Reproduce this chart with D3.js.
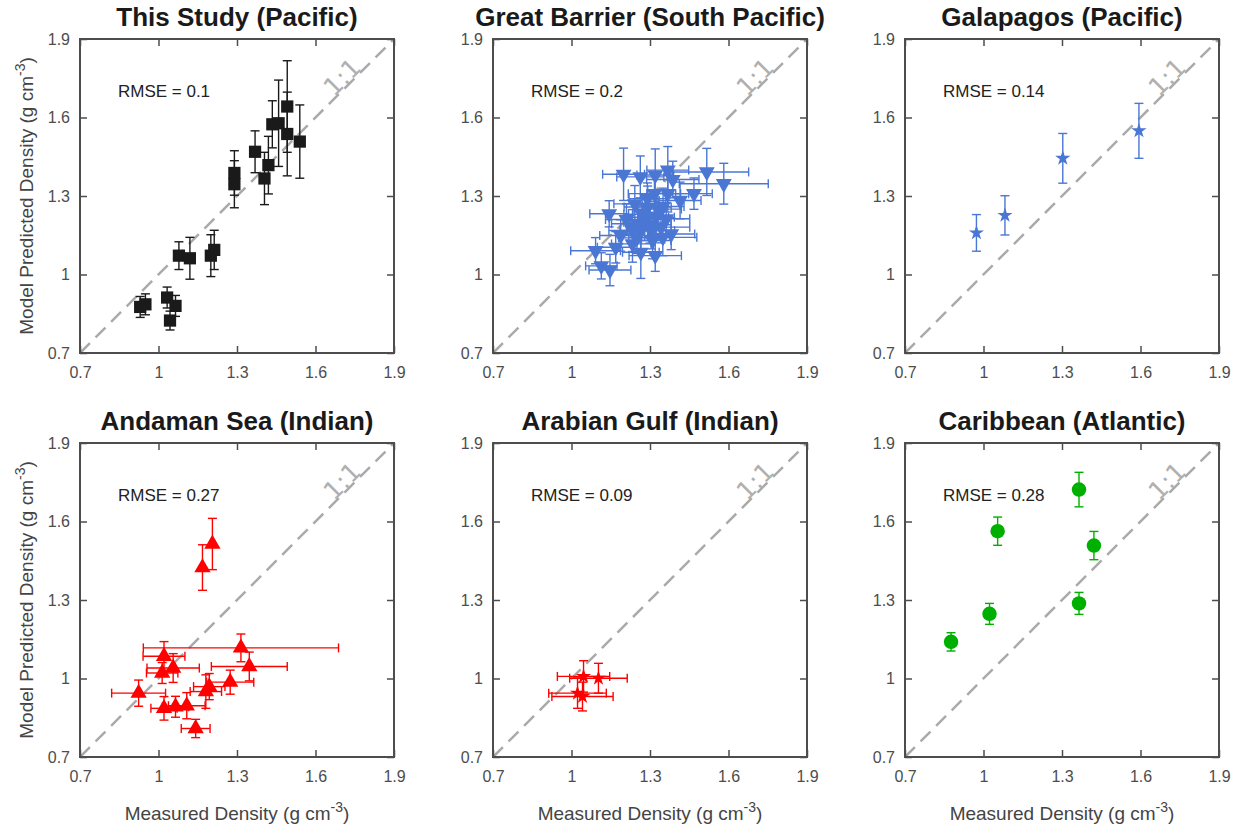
<!DOCTYPE html>
<html>
<head>
<meta charset="utf-8">
<script src="https://cdn.jsdelivr.net/npm/d3@7"></script>
<style>
  body { margin: 0; background: #fff; }
  text { font-family: "Liberation Sans", Arial, sans-serif; }
</style>
</head>
<body>
<div id="chart"></div>
<script>
// tick values shared by every panel
const ticks = [0.7, 1, 1.3, 1.6, 1.9]

// each point: x = measured, y = model, xe / ye = half error bar
const thisStudy = [
    { x: 0.93, y: 0.876, xe: 0, ye: 0.04 },
    { x: 0.95, y: 0.886, xe: 0, ye: 0.04 },
    { x: 1.033, y: 0.912, xe: 0, ye: 0.04 },
    { x: 1.065, y: 0.88, xe: 0, ye: 0.04 },
    { x: 1.044, y: 0.824, xe: 0, ye: 0.036 },
    { x: 1.078, y: 1.072, xe: 0, ye: 0.053 },
    { x: 1.12, y: 1.062, xe: 0, ye: 0.08 },
    { x: 1.2, y: 1.072, xe: 0, ye: 0.08 },
    { x: 1.213, y: 1.094, xe: 0, ye: 0.075 },
    { x: 1.29, y: 1.388, xe: 0, ye: 0.085 },
    { x: 1.29, y: 1.345, xe: 0, ye: 0.09 },
    { x: 1.369, y: 1.469, xe: 0, ye: 0.08 },
    { x: 1.405, y: 1.367, xe: 0, ye: 0.1 },
    { x: 1.42, y: 1.418, xe: 0, ye: 0.11 },
    { x: 1.435, y: 1.574, xe: 0, ye: 0.09 },
    { x: 1.459, y: 1.578, xe: 0, ye: 0.165 },
    { x: 1.492, y: 1.642, xe: 0, ye: 0.175 },
    { x: 1.492, y: 1.537, xe: 0, ye: 0.16 },
    { x: 1.54, y: 1.508, xe: 0, ye: 0.14 }
]

const greatBarrier = [
    { x: 1.199, y: 1.383, xe: 0.08, ye: 0.1 },
    { x: 1.263, y: 1.373, xe: 0.09, ye: 0.08 },
    { x: 1.32, y: 1.38, xe: 0.07, ye: 0.1 },
    { x: 1.368, y: 1.399, xe: 0.08, ye: 0.09 },
    { x: 1.387, y: 1.363, xe: 0.1, ye: 0.07 },
    { x: 1.517, y: 1.392, xe: 0.16, ye: 0.09 },
    { x: 1.582, y: 1.347, xe: 0.17, ye: 0.078 },
    { x: 1.468, y: 1.309, xe: 0.07, ye: 0.06 },
    { x: 1.415, y: 1.283, xe: 0.08, ye: 0.07 },
    { x: 1.317, y: 1.309, xe: 0.1, ye: 0.08 },
    { x: 1.368, y: 1.309, xe: 0.08, ye: 0.07 },
    { x: 1.144, y: 1.232, xe: 0.074, ye: 0.05 },
    { x: 1.242, y: 1.27, xe: 0.08, ye: 0.07 },
    { x: 1.291, y: 1.258, xe: 0.09, ye: 0.08 },
    { x: 1.323, y: 1.219, xe: 0.07, ye: 0.07 },
    { x: 1.362, y: 1.213, xe: 0.09, ye: 0.06 },
    { x: 1.253, y: 1.194, xe: 0.1, ye: 0.07 },
    { x: 1.265, y: 1.168, xe: 0.08, ye: 0.08 },
    { x: 1.304, y: 1.168, xe: 0.09, ye: 0.07 },
    { x: 1.342, y: 1.181, xe: 0.11, ye: 0.06 },
    { x: 1.349, y: 1.142, xe: 0.13, ye: 0.07 },
    { x: 1.188, y: 1.149, xe: 0.08, ye: 0.06 },
    { x: 1.169, y: 1.104, xe: 0.07, ye: 0.06 },
    { x: 1.092, y: 1.091, xe: 0.095, ye: 0.05 },
    { x: 1.233, y: 1.117, xe: 0.08, ye: 0.07 },
    { x: 1.265, y: 1.085, xe: 0.07, ye: 0.1 },
    { x: 1.32, y: 1.072, xe: 0.1, ye: 0.06 },
    { x: 1.114, y: 1.033, xe: 0.06, ye: 0.05 },
    { x: 1.147, y: 1.017, xe: 0.08, ye: 0.06 },
    { x: 1.291, y: 1.219, xe: 0.08, ye: 0.07 },
    { x: 1.233, y: 1.168, xe: 0.09, ye: 0.08 },
    { x: 1.381, y: 1.155, xe: 0.09, ye: 0.06 },
    { x: 1.28, y: 1.2, xe: 0.08, ye: 0.07 },
    { x: 1.31, y: 1.13, xe: 0.07, ye: 0.07 },
    { x: 1.21, y: 1.21, xe: 0.08, ye: 0.06 },
    { x: 1.27, y: 1.23, xe: 0.07, ye: 0.06 },
    { x: 1.3, y: 1.19, xe: 0.08, ye: 0.07 },
    { x: 1.33, y: 1.25, xe: 0.09, ye: 0.06 },
    { x: 1.25, y: 1.14, xe: 0.07, ye: 0.06 },
    { x: 1.35, y: 1.26, xe: 0.08, ye: 0.07 },
    { x: 1.29, y: 1.29, xe: 0.07, ye: 0.06 }
]

const galapagos = [
    { x: 0.973, y: 1.159, xe: 0, ye: 0.07 },
    { x: 1.082, y: 1.226, xe: 0, ye: 0.075 },
    { x: 1.303, y: 1.444, xe: 0, ye: 0.095 },
    { x: 1.594, y: 1.549, xe: 0, ye: 0.105 }
]

const andaman = [
    { x: 1.206, y: 1.514, xe: 0, ye: 0.098 },
    { x: 1.168, y: 1.424, xe: 0, ye: 0.087 },
    { x: 1.315, y: 1.117, xe: 0.373, ye: 0.053 },
    { x: 1.347, y: 1.046, xe: 0.145, ye: 0.055 },
    { x: 1.021, y: 1.085, xe: 0.08, ye: 0.056 },
    { x: 1.056, y: 1.04, xe: 0.1, ye: 0.055 },
    { x: 1.014, y: 1.021, xe: 0.06, ye: 0.04 },
    { x: 0.924, y: 0.944, xe: 0.103, ye: 0.05 },
    { x: 1.021, y: 0.886, xe: 0.05, ye: 0.045 },
    { x: 1.065, y: 0.892, xe: 0.05, ye: 0.04 },
    { x: 1.108, y: 0.896, xe: 0.07, ye: 0.05 },
    { x: 1.142, y: 0.809, xe: 0.055, ye: 0.035 },
    { x: 1.181, y: 0.95, xe: 0.06, ye: 0.064 },
    { x: 1.194, y: 0.969, xe: 0.06, ye: 0.05 },
    { x: 1.274, y: 0.986, xe: 0.09, ye: 0.046 }
]

const arabianGulf = [
    { x: 1.046, y: 1.008, xe: 0.1, ye: 0.06 },
    { x: 1.103, y: 1.001, xe: 0.11, ye: 0.057 },
    { x: 1.023, y: 0.944, xe: 0.11, ye: 0.058 },
    { x: 1.042, y: 0.931, xe: 0.117, ye: 0.055 }
]

const caribbean = [
    { x: 0.876, y: 1.14, xe: 0, ye: 0.035 },
    { x: 1.023, y: 1.247, xe: 0, ye: 0.04 },
    { x: 1.054, y: 1.563, xe: 0, ye: 0.054 },
    { x: 1.365, y: 1.722, xe: 0, ye: 0.066 },
    { x: 1.422, y: 1.508, xe: 0, ye: 0.054 },
    { x: 1.365, y: 1.287, xe: 0, ye: 0.042 }
]

const titles = ["This Study (Pacific)", "Great Barrier (South Pacific)", "Galapagos (Pacific)",
    "Andaman Sea (Indian)", "Arabian Gulf (Indian)", "Caribbean (Atlantic)"]
const rmse = ["0.1", "0.2", "0.14", "0.27", "0.09", "0.28"]

const panels = [
    { data: thisStudy, color: "#1a1a1a", symbol: d3.symbolSquare, size: 150, rot: 0 },
    { data: greatBarrier, color: "#4a76d4", symbol: d3.symbolTriangle, size: 110, rot: 180 },
    { data: galapagos, color: "#4a76d4", symbol: d3.symbolStar, size: 72, rot: 0 },
    { data: andaman, color: "#ff0000", symbol: d3.symbolTriangle, size: 115, rot: 0 },
    { data: arabianGulf, color: "#ff0000", symbol: d3.symbolStar, size: 72, rot: 0 },
    { data: caribbean, color: "#00b000", symbol: d3.symbolCircle, size: 165, rot: 0 }
]

const W = 1241, H = 830
const lefts = [80, 493, 905]
const tops = [39, 443]
const size = 314

const svg = d3.select("#chart").append("svg")
    .attr("width", W)
    .attr("height", H)

panels.forEach((p, i) => {
    const col = i % 3, row = Math.floor(i / 3)
    const g = svg.append("g")
        .attr("transform", `translate(${lefts[col]}, ${tops[row]})`)

    const x = d3.scaleLinear().domain([0.7, 1.9]).range([0, size])
    const y = d3.scaleLinear().domain([0.7, 1.9]).range([size, 0])

    // 1:1 line
    g.append("line")
        .attr("x1", x(0.7)).attr("y1", y(0.7))
        .attr("x2", x(1.9)).attr("y2", y(1.9))
        .attr("stroke", "#aaaaaa")
        .attr("stroke-width", 2.5)
        .attr("stroke-dasharray", "14,8")

    g.append("text")
        .attr("transform", `translate(${x(1.728)}, ${y(1.728)}) rotate(-45)`)
        .attr("text-anchor", "middle")
        .attr("dy", -1)
        .attr("fill", "#b0b0b0")
        .style("font-family", "DejaVu Sans, sans-serif")
        .style("font-size", "25px")
        .text("1:1")

    // error bars
    const cap = 4.5
    const bars = g.append("g")
        .attr("stroke", p.color)
        .attr("stroke-width", 1.4)
        .attr("fill", "none")

    p.data.forEach(d => {
        if (d.ye > 0) {
            bars.append("line")
                .attr("x1", x(d.x)).attr("x2", x(d.x))
                .attr("y1", y(d.y - d.ye)).attr("y2", y(d.y + d.ye))
            bars.append("line")
                .attr("x1", x(d.x) - cap).attr("x2", x(d.x) + cap)
                .attr("y1", y(d.y - d.ye)).attr("y2", y(d.y - d.ye))
            bars.append("line")
                .attr("x1", x(d.x) - cap).attr("x2", x(d.x) + cap)
                .attr("y1", y(d.y + d.ye)).attr("y2", y(d.y + d.ye))
        }
        if (d.xe > 0) {
            bars.append("line")
                .attr("y1", y(d.y)).attr("y2", y(d.y))
                .attr("x1", x(d.x - d.xe)).attr("x2", x(d.x + d.xe))
            bars.append("line")
                .attr("y1", y(d.y) - cap).attr("y2", y(d.y) + cap)
                .attr("x1", x(d.x - d.xe)).attr("x2", x(d.x - d.xe))
            bars.append("line")
                .attr("y1", y(d.y) - cap).attr("y2", y(d.y) + cap)
                .attr("x1", x(d.x + d.xe)).attr("x2", x(d.x + d.xe))
        }
    })

    // markers
    const sym = d3.symbol().type(p.symbol).size(p.size)
    g.append("g").selectAll("path")
        .data(p.data)
        .join("path")
        .attr("d", sym)
        .attr("transform", d => `translate(${x(d.x)}, ${y(d.y)}) rotate(${p.rot})`)
        .attr("fill", p.color)

    // axes with inward ticks on all sides
    const fmt = d => d3.format("")(+d.toFixed(1))
    const axisStyle = sel => {
        sel.select(".domain").remove()
        sel.selectAll(".tick line").attr("stroke", "#4d4d4d").attr("stroke-width", 1.5)
        sel.selectAll(".tick text").attr("fill", "#4d4d4d").style("font-size", "16px")
            .style("font-family", "Liberation Sans, Arial, sans-serif")
    }
    g.append("g").attr("transform", `translate(0, ${size})`)
        .call(d3.axisBottom(x).tickValues(ticks).tickFormat(fmt).tickSizeInner(-7).tickSizeOuter(0).tickPadding(14))
        .call(axisStyle)
    g.append("g")
        .call(d3.axisLeft(y).tickValues(ticks).tickFormat(fmt).tickSizeInner(-7).tickSizeOuter(0).tickPadding(10))
        .call(axisStyle)
    g.append("g")
        .call(d3.axisTop(x).tickValues(ticks).tickFormat("").tickSizeInner(-7).tickSizeOuter(0))
        .call(axisStyle)
    g.append("g").attr("transform", `translate(${size}, 0)`)
        .call(d3.axisRight(y).tickValues(ticks).tickFormat("").tickSizeInner(-7).tickSizeOuter(0))
        .call(axisStyle)

    g.append("rect")
        .attr("width", size).attr("height", size)
        .attr("fill", "none")
        .attr("stroke", "#4d4d4d")
        .attr("stroke-width", 2)

    g.append("text")
        .attr("x", x(0.845)).attr("y", y(1.7))
        .attr("dy", "0.35em")
        .attr("fill", "#222")
        .style("font-size", "17px")
        .text("RMSE = " + rmse[i])

    g.append("text")
        .attr("x", size / 2).attr("y", -13)
        .attr("text-anchor", "middle")
        .attr("fill", "#1a1a1a")
        .style("font-size", "26px")
        .style("font-weight", "bold")
        .text(titles[i])

    if (col === 0) {
        const yl = g.append("text")
            .attr("transform", `translate(-47, ${size / 2}) rotate(-90)`)
            .attr("text-anchor", "middle")
            .attr("fill", "#444")
            .style("font-size", "19px")
        yl.append("tspan").text("Model Predicted Density (g cm")
        yl.append("tspan").attr("dy", -8).style("font-size", "14px").text("-3")
        yl.append("tspan").attr("dy", 8).text(")")
    }
    if (row === 1) {
        const xl = g.append("text")
            .attr("x", size / 2).attr("y", size + 63)
            .attr("text-anchor", "middle")
            .attr("fill", "#444")
            .style("font-size", "19px")
        xl.append("tspan").text("Measured Density (g cm")
        xl.append("tspan").attr("dy", -8).style("font-size", "14px").text("-3")
        xl.append("tspan").attr("dy", 8).text(")")
    }
})
</script>
</body>
</html>
